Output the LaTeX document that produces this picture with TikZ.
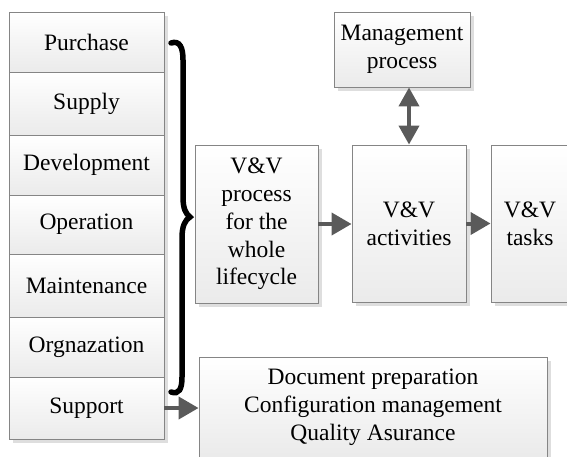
\documentclass[tikz,border=0pt]{standalone}
\usepackage{fontspec}
\setmainfont{Liberation Serif}
\usetikzlibrary{arrows.meta,shadows}
\definecolor{boxline}{HTML}{858585}
\definecolor{arrowgray}{HTML}{5A5A5A}
\tikzset{
  box/.style={draw=boxline, line width=0.9pt, top color=white, bottom color=black!8,
    align=center, inner sep=0pt, text=black,
    font=\fontsize{23.5}{27.8}\selectfont,
    drop shadow={shadow xshift=4pt, shadow yshift=-4pt, fill=black, opacity=0.13}},
  cell/.style={box, minimum width=155pt},
  flow/.style={draw=arrowgray, line width=4pt,
    -{Triangle[length=20pt,width=22pt]}},
  bothflow/.style={draw=arrowgray, line width=4pt,
    {Triangle[length=19pt,width=20pt]}-{Triangle[length=19pt,width=20pt]}},
  bracket/.style={draw=black, line width=5.5pt, line cap=round},
}
\begin{document}
\begin{tikzpicture}[x=1pt, y=-1pt]
  \path[use as bounding box, clip] (0,0) rectangle (567,456);

  % life-cycle processes
  \node[cell, minimum height=60pt] (pur) at (86.5,42)    {Purchase};
  \node[cell, minimum height=63pt] (sup) at (86.5,103.5) {Supply};
  \node[cell, minimum height=60pt] (dev) at (86.5,165)   {Development};
  \node[cell, minimum height=59pt] (ope) at (86.5,224.5) {Operation};
  \node[cell, minimum height=63pt] (mai) at (86.5,285.5) {Maintenance};
  \node[cell, minimum height=60pt] (org) at (86.5,347)   {Orgnazation};
  \node[cell, minimum height=62pt] (spt) at (86.5,408)   {Support};

  % grouping brace
  \coordinate (btop) at (171,43);
  \coordinate (btip) at (190,217);
  \coordinate (bbot) at (171,392);
  \draw[bracket] (btop) .. controls (180,40) and (183,48) .. (183,60)
    -- (183,197) .. controls (183,209) and (186,214) .. (btip)
    .. controls (185,220) and (182,226) .. (182,238)
    -- (182,377) .. controls (182,389) and (179,395) .. (bbot);

  % V&V chain
  \node[box, minimum width=123pt, minimum height=158pt] (proc) at (256.5,224)
    {V\&V\\process\\for the\\whole\\lifecycle};
  \node[box, minimum width=114pt, minimum height=157pt] (act) at (409,223.5)
    {V\&V\\activities};
  \node[box, minimum width=78pt, minimum height=157pt] (task) at (530,223.5)
    {V\&V\\tasks};
  \node[box, minimum width=136pt, minimum height=75pt] (mgmt) at (402,49.5)
    {Management\\process};
  \node[box, minimum width=348pt, minimum height=100pt] (supp) at (373,407)
    {Document preparation\\Configuration management\\Quality Asurance};

  % connectors
  \draw[flow] (proc.east) -- (proc.east -| act.west);
  \draw[flow] (act.east) -- (act.east -| task.west);
  \draw[bothflow] (act.north |- mgmt.south) -- (act.north);
  \draw[flow] (spt.east) -- (spt.east -| supp.west);
\end{tikzpicture}
\end{document}
